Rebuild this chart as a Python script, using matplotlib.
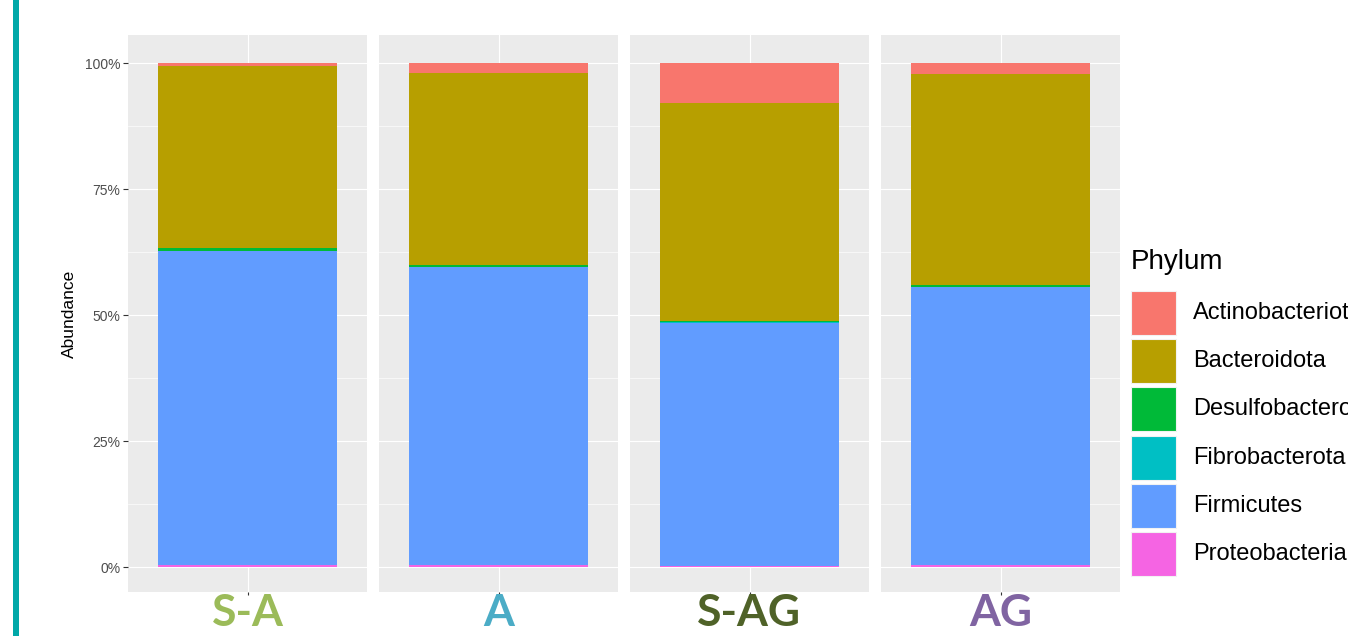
import matplotlib
matplotlib.use("Agg")
import matplotlib.pyplot as plt
from matplotlib.patches import Rectangle

# Samples and their label colours
samples = ["S-A", "A", "S-AG", "AG"]
sample_colors = ["#9BBB59", "#4BACC6", "#4F6228", "#8064A2"]

# Phyla (legend order) and fill colours
phyla = ["Actinobacteriota", "Bacteroidota", "Desulfobacterota",
         "Fibrobacterota", "Firmicutes", "Proteobacteria"]
phylum_colors = ["#F8766D", "#B79F00", "#00BA38", "#00BFC4", "#619CFF", "#F564E3"]

# Relative abundance (%) per sample
actinobacteriota = [0.6, 2.0, 8.0, 2.2]
bacteroidota = [36.2, 38.0, 43.1, 41.8]
desulfobacterota = [0.4, 0.4, 0.3, 0.4]
fibrobacterota = [0.1, 0.1, 0.1, 0.1]
firmicutes = [62.4, 59.2, 48.3, 55.2]
proteobacteria = [0.3, 0.3, 0.2, 0.3]

y_ticks = [0, 25, 50, 75, 100]
y_tick_labels = ["0%", "25%", "50%", "75%", "100%"]

series = dict(zip(phyla, [actinobacteriota, bacteroidota, desulfobacterota,
                          fibrobacterota, firmicutes, proteobacteria]))
colors = dict(zip(phyla, phylum_colors))
stack_order = list(reversed(phyla))  # first level sits on top

W, H = 1348, 636
fig = plt.figure(figsize=(W / 100, H / 100), dpi=100)
fig.patch.set_facecolor("white")

# accent bar on the left
fig.add_artist(Rectangle((13 / W, 0), 6 / W, 1, transform=fig.transFigure,
                         facecolor="#00A8A8", edgecolor="none"))

panel_left = [128, 379, 630, 881]
panel_w = 239
panel_top, panel_bottom = 35, 592

for i, (name, lab_col) in enumerate(zip(samples, sample_colors)):
    ax = fig.add_axes([panel_left[i] / W, (H - panel_bottom) / H,
                       panel_w / W, (panel_bottom - panel_top) / H])
    ax.set_facecolor("#EBEBEB")
    for s in ax.spines.values():
        s.set_visible(False)
    ax.set_xlim(-0.6, 0.6)
    ax.set_ylim(-4.96, 105.56)

    # grid
    for y in [12.5, 37.5, 62.5, 87.5]:
        ax.axhline(y, color="white", lw=0.45, zorder=0)
    for y in y_ticks:
        ax.axhline(y, color="white", lw=0.85, zorder=0)
    ax.axvline(0, color="white", lw=0.85, zorder=0)

    bottom = 0.0
    for ph in stack_order:
        v = series[ph][i]
        ax.bar(0, v, width=0.9, bottom=bottom, color=colors[ph],
               edgecolor="none", zorder=2)
        bottom += v

    ax.set_yticks(y_ticks)
    if i == 0:
        ax.set_yticklabels(y_tick_labels, fontsize=10, color="#4D4D4D",
                           fontfamily="Liberation Sans")
        ax.tick_params(axis="y", length=3.5, width=0.8, color="#333333", pad=2)
        ax.set_ylabel("Abundance", fontsize=12.5, fontfamily="Liberation Sans",
                      color="black", labelpad=6)
    else:
        ax.tick_params(axis="y", length=0, labelleft=False)

    ax.set_xticks([0])
    ax.set_xticklabels([name], fontsize=32, fontweight="bold",
                       fontfamily="Lato", color=lab_col)
    ax.tick_params(axis="x", length=2.5, width=0.8, color="#333333", pad=-2)

# legend
fig.text(1131 / W, 1 - 262 / H, "Phylum", fontsize=20,
         fontfamily="Liberation Sans", va="center", ha="left")
key_top0, key_step, key_h, key_w = 291, 48.2, 44, 45
for j, ph in enumerate(phyla):
    top = key_top0 + j * key_step
    fig.add_artist(Rectangle((1131 / W, 1 - (top + key_h) / H), key_w / W, key_h / H,
                             transform=fig.transFigure, facecolor=colors[ph],
                             edgecolor="#F2F2F2", lw=0.8))
    fig.text(1193 / W, 1 - (top + key_h / 2) / H, ph, fontsize=17,
             fontfamily="Liberation Sans", va="center", ha="left")

fig.savefig("out.png", dpi=100)
